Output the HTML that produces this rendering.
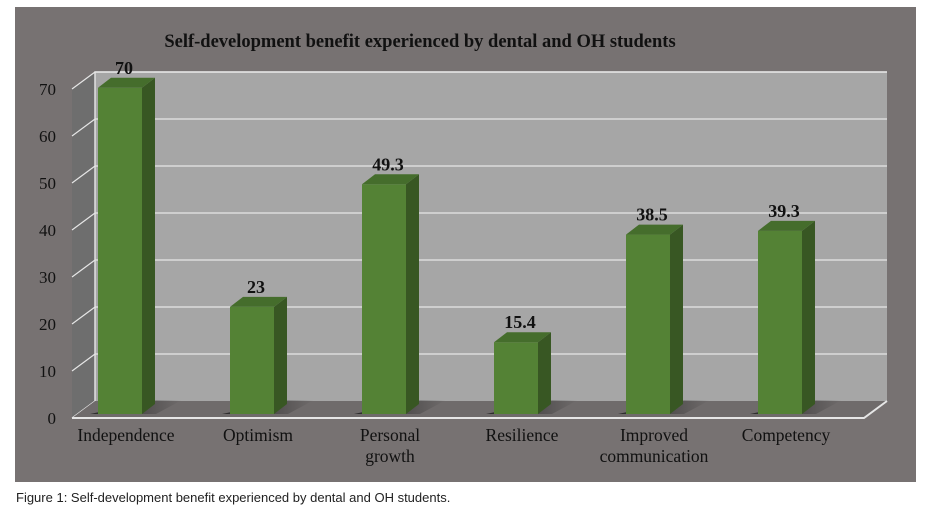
<!DOCTYPE html>
<html><head><meta charset="utf-8"><style>
body{margin:0;background:#fff;width:929px;height:522px;overflow:hidden}
svg{display:block}
</style></head><body>
<svg width="929" height="522" viewBox="0 0 929 522">
<defs>
<linearGradient id="sh" x1="0" x2="1" y1="0" y2="0">
<stop offset="0" stop-color="#222" stop-opacity="0.9"/><stop offset="1" stop-color="#222" stop-opacity="0"/>
</linearGradient>
</defs>
<rect x="15" y="7" width="901" height="475" fill="#777272"/>
<text x="420" y="47" text-anchor="middle" font-family="Liberation Serif, serif" font-weight="bold" font-size="18.5" fill="#111">Self-development benefit experienced by dental and OH students</text>
<g id="plot"></g>
<text x="16" y="502" font-family="Liberation Sans, sans-serif" font-size="13" fill="#222">Figure 1: Self-development benefit experienced by dental and OH students.</text>
</svg>
<script>
const categories=[["Independence"],["Optimism"],["Personal","growth"],["Resilience"],["Improved","communication"],["Competency"]];
const values=[70,23,49.3,15.4,38.5,39.3];
const valueLabels=["70","23","49.3","15.4","38.5","39.3"];
const ticks=[0,10,20,30,40,50,60,70];

const NS="http://www.w3.org/2000/svg";
const g=document.getElementById('plot');
function mk(t,a,p){const e=document.createElementNS(NS,t);for(const k in a)e.setAttribute(k,a[k]);(p||g).appendChild(e);return e;}
const DX=23,DY=-17;
const fx0=72,fx1=864,fy0=418,fscale=329/70;
const yFront=v=>fy0-v*fscale;
const yBar=v=>414-v*4.66;
const xC=i=>120+i*132;

let e=mk('polygon',{points:`${fx0},${yFront(70)} ${fx0+DX},${yFront(70)+DY} ${fx0+DX},${fy0+DY} ${fx0},${fy0}`,fill:'#6e6e6e'});


e=mk('rect',{x:fx0+DX,y:yFront(70)+DY,width:fx1-fx0,height:70*fscale,fill:'#a6a6a6'});


e=mk('polyline',{points:`${fx0+DX},${fy0+DY} ${fx0+DX},${yFront(70)+DY} ${fx1+DX},${yFront(70)+DY}`,fill:'none',stroke:'#e0e0e0','stroke-width':1.5});


ticks.forEach(t=>{
  const y=yFront(t);
  if(t>0){const gl=mk('line',{x1:fx0+DX,y1:y+DY,x2:fx1+DX,y2:y+DY,stroke:'#e6e6e6','stroke-width':1.2});
  
  }
  const d=mk('line',{x1:fx0,y1:y,x2:fx0+DX,y2:y+DY,stroke:'#e6e6e6','stroke-width':1.2});
  
  
  const tx=mk('text',{x:56,y:y+6,'text-anchor':'end','font-family':'Liberation Serif, serif','font-size':17,fill:'#111'});
  tx.textContent=t;
  
  
});
e=mk('polygon',{points:`${fx0},${fy0} ${fx0+DX},${fy0+DY} ${fx1+DX},${fy0+DY} ${fx1},${fy0}`,fill:'#6f6b6b'});


e=mk('polyline',{points:`${fx0},${fy0} ${fx1},${fy0} ${fx1+DX},${fy0+DY}`,fill:'none',stroke:'#e6e6e6','stroke-width':2});


values.forEach((v,i)=>{
  const x=xC(i)-22,w=44,y=yBar(v),b=414;
  const s=mk('polygon',{points:`${x-8},${b} ${x+w+14},${b-14} ${x+w+40},${b-14} ${x+w+14},${b}`,fill:'url(#sh)'});
  
  
  const f=mk('rect',{x:x,y:y,width:w,height:b-y,fill:'#548235'});
  
  
  const sd=mk('polygon',{points:`${x+w},${y} ${x+w+13},${y-10} ${x+w+13},${b-10} ${x+w},${b}`,fill:'#385723'});
  
  
  const tp=mk('polygon',{points:`${x},${y} ${x+13},${y-10} ${x+w+13},${y-10} ${x+w},${y}`,fill:'#456d2c'});
  
  
  const lb=mk('text',{x:xC(i)+4,y:y-14,'text-anchor':'middle','font-family':'Liberation Serif, serif','font-weight':'bold','font-size':18,fill:'#111'});
  lb.textContent=valueLabels[i];
  
  
  categories[i].forEach((c,j)=>{
    const t=mk('text',{x:xC(i)+6,y:441+j*21,'text-anchor':'middle','font-family':'Liberation Serif, serif','font-size':17.5,fill:'#111'});
    t.textContent=c;
    
    
  });
});
</script>
</body></html>
